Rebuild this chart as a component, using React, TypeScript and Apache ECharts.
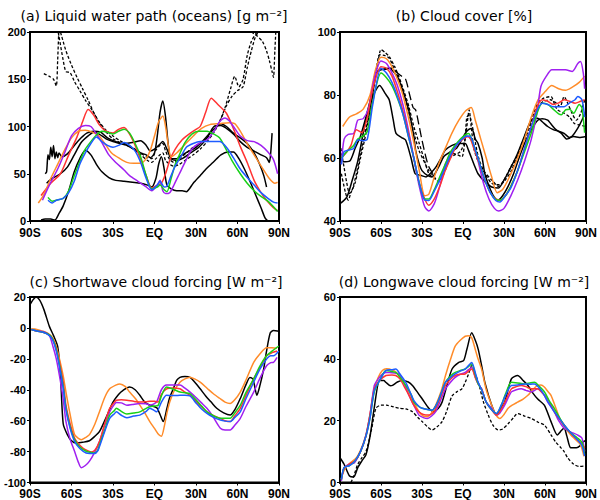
import React, { useEffect, useRef } from "react";
import * as echarts from "echarts";

type P = [number, number][];

// ---------- Panel (a) Liquid water path (oceans) [g m-2] ----------
const aRed: P = [[-82,27],[-75,40],[-68,50],[-62,70],[-56,89],[-52,105],[-48,118],[-44,112],[-40,102],[-35,95],[-30,93],[-26,97],[-22,99],[-18,92],[-14,80],[-10,65],[-6,48],[-2,35],[2,38],[5,40],[8,50],[11,64],[15,76],[20,86],[25,92],[30,97],[33,100],[37,115],[41,130],[46,123],[52,114],[57,98],[62,79],[67,62],[72,43],[77,30],[81,22],[86,14],[89,11]];
const aOrange: P = [[-84,19],[-80,28],[-75,45],[-70,60],[-65,75],[-60,88],[-55,95],[-50,96],[-45,94],[-40,90],[-35,80],[-31,72],[-25,66],[-20,62],[-15,61],[-10,61],[-6,66],[-3,75],[0,90],[3,105],[6,111],[8,100],[10,80],[12,68],[16,72],[22,81],[28,90],[34,98],[40,102],[47,103],[54,104],[58,103],[62,95],[67,82],[72,70],[78,56],[83,45],[87,40],[89,41]];
const aPurple: P = [[-81,22],[-76,38],[-70,55],[-65,72],[-60,90],[-55,98],[-50,101],[-46,100],[-42,92],[-38,83],[-33,70],[-28,62],[-22,54],[-18,48],[-12,42],[-6,36],[-2,32],[2,38],[4,43],[6,32],[8,29],[11,30],[14,38],[18,50],[22,62],[27,76],[32,82],[38,86],[43,95],[47,105],[51,109],[54,106],[58,98],[62,90],[67,85],[72,84],[77,80],[82,73],[86,65],[89,50]];
const aGreen: P = [[-77,25],[-74,21],[-71,22],[-66,24],[-62,32],[-58,48],[-54,63],[-50,76],[-46,84],[-42,91],[-38,95],[-34,94],[-30,92],[-26,95],[-22,97],[-18,93],[-14,82],[-10,68],[-6,48],[-2,34],[2,36],[4,38],[7,33],[9,31],[12,45],[15,60],[18,70],[22,83],[27,92],[32,95],[38,95],[43,92],[47,88],[51,78],[56,64],[62,50],[67,40],[72,32],[77,26],[82,21],[86,15],[89,10]];
const aBlue: P = [[-77,22],[-74,19],[-71,22],[-66,24],[-62,30],[-58,42],[-54,60],[-50,72],[-46,82],[-42,89],[-38,84],[-34,80],[-30,78],[-26,80],[-22,83],[-18,80],[-14,74],[-10,62],[-6,45],[-2,33],[2,38],[4,42],[7,36],[9,37],[12,48],[15,58],[19,68],[23,78],[28,82],[33,84],[40,84],[47,84],[52,78],[57,67],[62,55],[67,46],[72,38],[77,30],[82,24],[86,20],[89,19]];
const aBlack1: P = [[-79,50],[-78,52],[-77,70],[-76,65],[-75,78],[-74,68],[-73,80],[-72,66],[-71,73],[-70,67],[-69,72],[-67,68],[-63,71],[-58,80],[-53,88],[-49,93],[-44,95],[-39,94],[-34,88],[-28,84],[-22,82],[-16,83],[-10,85],[-6,80],[-3,74],[0,76],[3,80],[6,84],[9,76],[12,66],[16,64],[20,66],[26,72],[32,78],[38,88],[43,100],[48,101],[52,98],[57,92],[62,84],[67,78],[72,74],[77,70],[81,67],[83,62],[84,72],[85,93]];
const aBlack2: P = [[-78,40],[-74,45],[-68,50],[-63,57],[-58,70],[-53,83],[-48,90],[-44,94],[-40,92],[-35,87],[-30,84],[-25,82],[-20,80],[-15,76],[-10,72],[-6,70],[-3,67],[0,72],[2,90],[4,115],[6,127],[8,110],[10,80],[12,66],[16,66],[20,70],[25,74],[30,78],[35,85],[40,93],[45,100],[48,103],[52,100],[57,93],[62,88],[67,82],[72,72],[76,60],[79,48],[81,36]];
const aBlack3: P = [[-82,1],[-79,2],[-75,2],[-72,1],[-69,8],[-66,16],[-62,32],[-58,52],[-54,66],[-50,75],[-46,70],[-42,60],[-38,52],[-33,46],[-28,43],[-22,42],[-16,41],[-10,40],[-5,38],[-2,36],[1,45],[3,60],[5,68],[7,55],[9,38],[12,34],[16,32],[20,32],[23,31],[28,40],[33,48],[38,56],[43,63],[48,70],[53,73],[57,73],[61,66],[65,55],[69,42],[73,28],[77,14],[80,3],[82,0]];
const aDash1: P = [[-80,156],[-76,153],[-73,150],[-71,143],[-70,170],[-69,210]];
const aDash2: P = [[-71,210],[-69,195],[-66,170],[-64,158],[-61,157],[-58,148],[-54,138],[-50,128],[-45,117],[-40,105],[-35,96],[-30,90],[-25,85],[-20,81],[-15,77],[-10,72],[-5,67],[-2,66],[1,75],[4,80],[6,82],[8,74],[11,65],[14,62],[18,66],[23,72],[28,78],[33,82],[38,88],[43,95],[47,105],[51,120],[55,140],[58,153],[61,142],[64,150],[67,175],[70,190],[74,200],[77,210]];
const aDash3: P = [[-70,210],[-67,195],[-64,180],[-60,165],[-56,152],[-52,140],[-48,128],[-44,115],[-40,104],[-35,94],[-30,87],[-25,83],[-20,80],[-15,76],[-10,70],[-5,64],[-2,62],[1,66],[4,70],[6,72],[8,64],[11,60],[14,58],[18,60],[23,65],[28,70],[33,76],[38,84],[43,94],[48,108],[52,122],[56,132],[60,138],[64,142],[67,162],[70,180],[73,195],[76,202],[80,212]];
const aDash4: P = [[70,200],[74,196],[78,190],[81,180],[83,170],[85,158],[86,152],[87,180],[88,210]];

// ---------- Panel (b) Cloud cover [%] ----------
const bOrange: P = [[-88,70],[-83,73],[-78,74],[-73,75.5],[-68,80],[-64,88],[-60,92],[-56,91.5],[-52,89],[-48,85],[-44,80],[-40,73],[-36,65],[-32,56],[-28,48],[-25,48.5],[-21,54],[-17,59],[-12,64],[-8,68],[-3,72],[2,75],[6,76],[9,72],[13,66],[17,60],[21,54],[25,49],[29,50],[34,54],[40,60],[45,66],[50,73],[55,78.5],[60,81],[65,83],[70,82],[75,81.5],[80,82.5],[85,84],[89,86]];
const bPurple: P = [[-89,58],[-87,66],[-84,67.5],[-80,67.8],[-77,72],[-73,72.5],[-69,76],[-65,85],[-60,90.8],[-56,90],[-52,87],[-48,83],[-44,77],[-40,69],[-36,60],[-32,51],[-28,44.5],[-25,43.2],[-21,45.5],[-17,51],[-13,58],[-8,62],[-4,64.5],[0,66.5],[3,67],[7,65],[11,59],[15,52],[19,47],[23,44],[26,43.2],[30,44],[35,48],[40,53],[45,59],[50,66],[54,74],[57,82.7],[61,86],[65,88],[70,88],[75,88],[80,87.5],[84,90],[86,90.6],[88,87],[89,82]];
const bRed: P = [[-89,60],[-85,62],[-82,64],[-78,69],[-74,68],[-70,73],[-66,82],[-60,89],[-56,88.5],[-52,86],[-48,81],[-44,75],[-40,68],[-36,60],[-32,52],[-28,47],[-25,45],[-21,47],[-17,51],[-13,56],[-8,61],[-4,64.5],[0,66],[4,66.8],[8,63],[12,58],[16,53],[20,49],[24,47],[27,46.6],[31,48],[35,51],[40,56],[45,63],[50,70],[54,76],[58,78.5],[62,78],[66,77],[70,77.5],[74,78.5],[78,78],[82,77.4],[86,78],[89,78.5]];
const bGreen: P = [[-89,60],[-85,62],[-80,64],[-77,66],[-73,67],[-70,68.5],[-66,78],[-60,87],[-56,85.5],[-52,83],[-48,79],[-44,74],[-40,67],[-36,60],[-32,52],[-28,47],[-25,47],[-21,50],[-17,54],[-13,58],[-9,62],[-4,65],[0,66.8],[4,67.8],[8,64],[12,58.5],[16,53],[20,49],[24,46.8],[27,46.6],[31,48],[35,51],[40,56],[45,62],[50,68],[54,74],[58,77.4],[62,77],[66,75.5],[70,74],[72,73.7],[75,75.3],[78,75.5],[81,74.2],[85,77],[87,76],[89,68]];
const bBlue: P = [[-89,58],[-87,62],[-84,62.5],[-80,63],[-77,65.7],[-73,65.5],[-70,66],[-66,77],[-60,88.5],[-56,87],[-52,84],[-48,79.5],[-44,74],[-40,67],[-36,60],[-32,52],[-28,46.6],[-25,46.5],[-21,49.5],[-17,53],[-13,57],[-9,61],[-4,64.5],[1.6,66.8],[5,67],[8,64],[12,58.5],[16,53],[20,49],[24,46.5],[27,46],[31,48],[35,50.5],[40,56],[45,63],[50,70],[54,75],[58,77.4],[62,77],[66,76.3],[70,76.3],[74,76.3],[78,77.5],[82,78.5],[84,79.5],[87,78.5],[89,73]];
const bBlack1: P = [[-90,45.5],[-85,47.6],[-81,53],[-77,59],[-72,70],[-66,79.5],[-61,83],[-57,80.5],[-54,78.5],[-51,72],[-49,67.8],[-45,66.5],[-42,65.7],[-38,60],[-35,55],[-31,54.5],[-27,54],[-23,55.5],[-20,57],[-16,60],[-13,62.5],[-8,64],[-3,64.6],[1.6,64.6],[4,62.5],[8,58],[11,55],[16,52.5],[21,50.8],[26,50.5],[30,53],[35,57],[40,61.5],[45,67],[50,72],[54.7,72.6],[58,71.5],[62,70],[66,69],[70,68.5],[74,67.8],[78,66.5],[81,66.8],[85,66.5],[90,66.8]];
const bBlack2: P = [[-88,58.8],[-83,59],[-79,63],[-75,67],[-71,73],[-67,80],[-64,87],[-60,88],[-54,88.5],[-50,87],[-47,85],[-43,80],[-39.6,75],[-36,67],[-34.7,62.5],[-32,58],[-30,56],[-26,54.5],[-22.6,54],[-18,57],[-14,60.5],[-9,62],[-5,63],[-2,65],[1.6,67.8],[4,69],[6.4,69.4],[9,66],[11,64.6],[14,60],[16,55],[20,50],[23,47.5],[25.7,46.6],[29,48],[33,51],[37,55],[41,60],[45,64.6],[50,69],[54.7,72],[58,72.5],[62,72],[64,71],[68,69],[72,67.8],[76,66],[80,67],[84,69.5],[87,72],[90,75]];
const bDash1: P = [[-90,64.6],[-87,57],[-85,52],[-83,48.7],[-81,50],[-78,55],[-73,65.7],[-69,73],[-66,80.5],[-63,88],[-60,94.4],[-57,93.5],[-54,92.2],[-50,89],[-47,85.9],[-43,81],[-39.6,76.3],[-36,70],[-32,64.6],[-28,59],[-25,55],[-21,53.5],[-17.7,53],[-14,56],[-10,60],[-6,61],[-2,62],[1,65],[2.8,70],[4.5,75.3],[6,70],[8,63],[11,59],[15,56],[21,53],[26,51],[30,53],[35,57.2],[40,61],[45,65.7],[50,71],[54.7,76.3],[59,78],[64,78.5],[68,77.5],[71,76.3],[74,79.5],[77,77],[80,74],[83,72],[86,74],[88,77],[90,79.5]];
const bDash2: P = [[-89,55],[-86,49],[-84,46.6],[-82,49],[-79,52],[-75,60],[-71,67.8],[-67,78],[-64,86],[-61,92.8],[-57,92.5],[-54,91.7],[-50,88],[-46.8,85],[-43,80],[-39.5,74.2],[-36,68],[-32.3,62.5],[-28,58.5],[-25,56],[-21,54],[-17.8,52.4],[-14,55],[-10.5,59],[-8,61.5],[-4,61],[-0.8,60.4],[1.5,66],[2.8,73],[4.5,73.5],[6.4,71],[9,65],[11.2,60.4],[15,56],[20.9,52],[27,51.5],[31,53],[35.4,56],[40,61],[45.1,66.8],[50,72],[54.7,77.4],[59,79],[64.4,79.5],[67,77],[69.2,75.3],[74,74.2],[78,73],[81.3,71],[85,70.5],[90,70]];
const bLongDash: P = [[-58,88],[-54,88.5],[-51,88.5],[-48,87],[-45,86],[-42,85],[-39,80],[-36.5,76],[-34.7,75.3],[-32,70],[-30,65.7],[-27,60],[-25,57.2],[-22,55]];

// ---------- Panel (c) Shortwave cloud forcing [W m-2] ----------
const cBlack: P = [[-90,15],[-88,18],[-85.6,20],[-83,18],[-80,12],[-76,1],[-73,-5],[-70,-12],[-68,-30],[-66,-62],[-63,-69],[-60,-73],[-56.6,-74.5],[-52,-74],[-47,-73],[-43,-70],[-39.7,-67],[-35,-58],[-30,-48],[-26,-43],[-22.7,-40.4],[-18,-38.3],[-14,-40],[-10.6,-43.6],[-7,-48],[-3.4,-50],[0,-51],[2,-52],[4,-56],[6.3,-60.6],[9,-52],[11,-45],[13.6,-39.4],[16,-34],[18.4,-32],[22,-31.5],[25.7,-32],[29,-35],[33,-39.4],[37,-44],[41,-48],[45,-52],[50,-55],[54.7,-56.4],[58,-53],[62,-45.7],[66,-37],[69,-32],[71,-33],[72,-36],[74,-43.6],[76,-38],[78.9,-26.6],[81,-15],[83.7,-3.2],[86,-1.7],[90,-2.1]];
const cOrange: P = [[-89,-0.6],[-85,-1],[-80.8,-2.1],[-77,-3.5],[-73.5,-6.4],[-71,-12],[-68.7,-20],[-66,-31],[-64,-41.5],[-61,-56],[-57.8,-69],[-55,-71.5],[-53,-72.3],[-50,-71],[-47,-69],[-43,-62],[-39.7,-54],[-36,-45],[-32.4,-39.4],[-28,-37],[-25,-36.2],[-21,-38],[-18,-41.5],[-14,-45.5],[-10.6,-50],[-7,-55],[-3.4,-60.6],[0,-65],[3,-69],[5,-70],[7,-64],[9,-55],[11,-47.9],[14,-41],[18.4,-35.1],[22,-33],[25.7,-31.9],[29,-33],[33,-35.1],[38,-39],[42.6,-42.6],[47,-45.5],[51,-48],[54.7,-48.9],[58,-46.5],[62,-41.5],[66,-34],[71.7,-22.3],[76,-17],[81,-12.8],[85,-12.8],[88.6,-13.2]];
const cPurple: P = [[-89,-1],[-85,-2],[-80,-2.5],[-76,-5],[-73.5,-11.7],[-71,-20],[-68.7,-30.9],[-66,-46],[-64,-60.6],[-61,-72],[-57.8,-79.8],[-55,-87],[-53,-90.4],[-50,-89],[-47,-86.2],[-43,-80],[-39.7,-73.4],[-36,-63],[-32.4,-54.3],[-29,-49.5],[-27.6,-48.3],[-24,-48.5],[-20,-50],[-16,-49.5],[-10.6,-48.9],[-6,-49],[-3.4,-50],[0,-49],[2,-47],[5,-40],[8.7,-37],[13,-37],[18.4,-37],[22,-39],[25.7,-41.5],[30,-45],[34,-48.5],[37.9,-52],[42,-57],[47.6,-64.9],[51,-66],[54.7,-66],[58,-63],[62,-58.5],[66,-51],[71.7,-41.5],[76,-33],[81,-24.5],[84,-22.5],[86,-22.3],[88.6,-19.1]];
const cRed: P = [[-89,-1],[-85,-2],[-80,-3],[-76,-4.5],[-73.5,-7.4],[-71,-13],[-68.7,-22.3],[-66,-35],[-64,-50],[-61,-62],[-57.8,-71.3],[-55,-75],[-51.8,-77.7],[-48,-79.5],[-45.7,-80.2],[-43,-79],[-39.7,-73.4],[-36,-62],[-32.4,-52],[-29,-48],[-27.6,-46.8],[-24,-46.5],[-20,-46.8],[-15,-47.5],[-10.6,-47.9],[-6,-47.8],[-3.4,-47.4],[0,-47.5],[2.7,-47.9],[5,-43],[8.7,-39.4],[13,-38.8],[18.4,-39.4],[22,-41.5],[25.7,-43.6],[30,-47.5],[34,-51],[37.9,-54.3],[42,-56.5],[47.6,-58.5],[51,-60],[54.7,-60.6],[58,-57],[62,-52],[66,-44],[71.7,-33],[76,-26],[81,-18],[85,-16],[88.6,-14.9]];
const cGreen: P = [[-89,-1],[-85,-2],[-80,-3],[-76,-4.5],[-73.5,-7.4],[-71,-14],[-68.7,-24],[-66,-38],[-64,-52],[-61,-64],[-57.8,-72.3],[-54,-77],[-49.4,-79.8],[-46,-80.5],[-43.3,-80.9],[-41,-79],[-39.7,-75.5],[-36,-66],[-32.4,-56.4],[-29,-53.5],[-27.6,-52],[-24,-54],[-20,-55.7],[-15,-55],[-10.6,-54.3],[-6,-52],[-3.4,-51],[0,-50.5],[2.7,-50],[5,-44],[8.7,-38.3],[13,-39.5],[18.4,-41.5],[22,-42],[25.7,-42.6],[30,-46.5],[34,-50.5],[37.9,-54.3],[42,-56.5],[47.6,-58.5],[51,-58.5],[54.7,-58.5],[58,-55],[62,-50],[66,-42],[71.7,-33],[76,-25],[81,-18],[85,-15],[89.8,-11.7]];
const cBlue: P = [[-89,-1],[-85,-2],[-80,-3],[-76,-5],[-73.5,-8],[-71,-15],[-68.7,-25],[-66,-39],[-64,-53],[-61,-65],[-57.8,-73.4],[-54,-78],[-49.4,-80.9],[-46,-81.2],[-43.3,-81.3],[-41,-79.5],[-39.7,-76.5],[-36,-67],[-32.4,-58.5],[-29,-55.5],[-27.6,-54.3],[-24,-56.5],[-20,-58.1],[-15,-57],[-10.6,-56.4],[-6,-54],[-3.4,-52],[0,-53.5],[1.5,-54.3],[5,-48],[8.7,-43.6],[13,-43.8],[18.4,-43.6],[22,-43.5],[25.7,-44],[30,-48.5],[34,-52.5],[37.9,-55.3],[42,-57.5],[47.6,-59.6],[51,-60.3],[54.7,-60.6],[58,-58],[62,-54.3],[66,-46],[71.7,-35.1],[76,-27],[81,-20.2],[84,-18],[86,-18],[89.8,-14.9]];

// ---------- Panel (d) Longwave cloud forcing [W m-2] ----------
const dBlack: P = [[-90,8],[-87,5.9],[-83,2.1],[-80,1.8],[-77,4.8],[-74,7],[-71,9],[-68,15],[-65,24],[-61,33],[-58,33],[-56.4,32.4],[-53,31.3],[-51.6,31.4],[-48,32.5],[-44.3,33],[-40,32.5],[-37,31.4],[-33,29],[-29.8,27],[-25,24],[-21.4,22.9],[-18,24],[-15.3,26],[-12,31],[-8,36.7],[-3.3,38.8],[0.4,39.4],[2.8,43],[6.4,48.4],[9,46],[11.2,43],[14,37],[16,32.4],[21,25],[24.5,21.8],[27,23.5],[30.5,26],[35.4,33.5],[40,34.6],[44,33],[47.5,31.4],[51,29],[54.7,27],[59.5,25],[64.4,19.7],[69,15.4],[72,16.8],[74,17.6],[76,15],[78.9,11.2],[83,11.2],[86,12],[88.5,13.3],[90,13.5]];
const dDash: P = [[-82,0],[-80,2],[-77,5.9],[-74,8],[-71,10],[-67,17],[-63.7,24],[-60,25],[-56,25],[-51,24.5],[-46.7,24],[-42,23.8],[-37,22.9],[-33,21],[-29.8,19.7],[-26,18],[-22.6,17],[-19,18],[-15.3,19.7],[-12,23],[-8,28],[-4,29.5],[-0.8,30.3],[1.6,32.4],[4,35],[6.4,37.8],[9,35],[11.2,32.4],[15,26],[18.5,21.8],[22,18.5],[25.7,17],[29,17.3],[33,19],[37,21],[40,22.3],[45,21.5],[50,20.7],[55,19.5],[59.5,18.6],[64.4,15.4],[68,13],[71.7,11.2],[74,10],[76.6,8],[81,5.9],[85,5.2],[88.5,5.3]];
const dOrange: P = [[-88,2.7],[-86,4.8],[-82,6.5],[-78,8],[-74,11.5],[-71,15.4],[-68,22],[-64.9,30.3],[-62,34],[-59,36.2],[-56,36.8],[-54,36.7],[-50,36],[-46.7,34.6],[-43,32],[-39.5,29.3],[-36,26],[-32.2,22.9],[-29,21.5],[-26,21.3],[-23,22.5],[-20,25],[-16,29.5],[-12.8,34.6],[-9,40],[-5.7,44.1],[-2,46],[1.6,47.3],[4,47.5],[6.4,46.8],[9,43],[11,40],[13.6,36.7],[17,30],[21,25],[24,22],[27,20.7],[30,22],[33,24],[36,25],[40,26],[44,27],[47.5,28.2],[51,30],[54.7,31.4],[57,31.5],[59.5,30.9],[62,29.5],[64.4,28.2],[68,24],[71.7,19.7],[75,17.5],[78.9,15.4],[82,14],[86,12.2],[88.5,8.5]];
const dPurple: P = [[-89,0.5],[-87,4.8],[-83,6],[-79.4,6.4],[-75,10],[-71,15.4],[-68,22],[-64.9,31.4],[-62,33.5],[-59,35.1],[-56,35.6],[-54,35.6],[-50,35.4],[-46.7,35.1],[-43,32],[-39.5,28.2],[-36,25],[-32.2,21.8],[-29,21],[-26,20.7],[-23,21.5],[-20,22.9],[-16,27],[-12.8,30.3],[-9,32.5],[-5.7,34],[-2,35],[1.6,35.6],[4,36.5],[6.4,37.2],[9,34],[11,32],[13.6,30.3],[17,26],[21,24],[24.5,21.8],[27,22.5],[30.5,25],[35.4,29.3],[39,30],[42.6,30.3],[46,29.8],[50,29.3],[54.7,30.3],[57,29.5],[59.5,28.2],[62,26],[66.8,22.9],[70,20],[74,17.6],[79,16.3],[83.7,15.4],[87,14.4],[89,10.1]];
const dRed: P = [[-89,1],[-87,4.5],[-83,6],[-79,7],[-75,10],[-71,15],[-68,22],[-64.9,30.3],[-61,33],[-56.4,34.6],[-52,34.8],[-49.2,34.6],[-46,33.5],[-43,31],[-39.5,28.2],[-36,25],[-32.3,22.9],[-29,22],[-25,21.8],[-21,23],[-17,27],[-12.9,31.3],[-9,33.5],[-5.7,34.6],[-2,35],[1.6,35.1],[4,36],[6.4,36.7],[9,34],[11,32],[13.6,30.3],[17,26],[21,23.5],[24.5,21.8],[27,23],[30.6,26],[35.4,30.3],[39,31],[42.6,31.4],[46,31],[50,30.3],[54.7,30.3],[58,29],[62,27],[64.4,25],[68,22],[71.6,20],[74,18.6],[78,16.3],[83.7,13.8],[87,12.5],[89,11.2]];
const dGreen: P = [[-89,1],[-87,4.8],[-83,5.5],[-79,7],[-75,10],[-71,15],[-68,21],[-64.9,29.3],[-61,33],[-56.4,36.2],[-52,35.9],[-49.2,35.6],[-46,34],[-41.9,31.4],[-38,28.5],[-35.9,26],[-32,24.5],[-29.8,24],[-25,23.5],[-22.6,23.4],[-19,25.5],[-15,30],[-12.9,32.4],[-9,34.5],[-5.7,35.6],[-2,36.2],[1.6,36.7],[4,37.5],[6.4,38.3],[9,35],[11,32],[13.6,30],[17,26],[21,23.5],[24.5,22.3],[28,25],[31,28.5],[35.4,32.4],[40,32.2],[45.1,31.9],[49,32.2],[52.3,32.4],[56,31],[59.6,29.3],[63,26.5],[66.8,24],[70,21.5],[74,18.6],[79,16],[83.7,14.4],[87,13],[89,9]];
const dBlue: P = [[-89,1],[-87,4.8],[-83,5.5],[-79,7],[-75,10],[-71,15],[-68,21],[-64.9,29.8],[-61,33],[-56.4,36.2],[-52,36.5],[-49.2,36.7],[-46,35],[-41.9,32.4],[-38,28.5],[-35.9,26.5],[-32,24.5],[-29.8,24],[-25,23.5],[-22.6,23.4],[-19,25.5],[-15,30],[-12.9,32.4],[-9,34],[-5.7,35.1],[-2,36],[1.6,36.7],[4,37.8],[6.4,38.8],[9,35.5],[11,32.5],[13.6,30],[17,26],[21,23.5],[24.5,22.3],[28,25],[31,28],[35.4,31.4],[40,31.5],[45.1,31.9],[49,31.8],[52.3,31.9],[56,30.5],[59.6,28.2],[63,25.5],[66.8,22.9],[70,21],[74,18.6],[79,16],[83.7,13.8],[87,12],[89,8.5]];

// axis settings
const latTicks = [-90, -60, -30, 0, 30, 60, 90];
const yRanges: [number, number, number][] = [[0, 200, 50], [40, 100, 20], [-100, 20, 20], [0, 60, 20]];
const titles = [
  "(a) Liquid water path (oceans) [g m\u207B\u00B2]",
  "(b) Cloud cover [%]",
  "(c) Shortwave cloud forcing [W m\u207B\u00B2]",
  "(d) Longwave cloud forcing [W m\u207B\u00B2]",
];

const RED = "#ff3333";
const ORANGE = "#ff8c2a";
const PURPLE = "#a020f0";
const GREEN = "#18d018";
const BLUE = "#1e5cff";
const BLACK = "#000000";

const grids = [
  { left: 30, top: 32, width: 249, height: 189 },
  { left: 340, top: 32, width: 249, height: 189 },
  { left: 30, top: 297, width: 249, height: 188 },
  { left: 340, top: 297, width: 249, height: 188 },
];

function latLabel(v: number) {
  if (v === 0) return "EQ";
  return v < 0 ? `${-v}S` : `${v}N`;
}

function line(data: P, color: string, gi: number, dash?: number[], width = 1.5) {
  return {
    type: "line",
    data,
    xAxisIndex: gi,
    yAxisIndex: gi,
    showSymbol: false,
    symbol: "none",
    smooth: 0.25,
    clip: true,
    lineStyle: { color, width, type: dash ? dash : "solid" },
    z: color === BLACK ? 2 : 3,
  };
}

export default function App() {
  const ref = useRef<HTMLDivElement>(null);
  useEffect(() => {
    document.body.style.margin = "0";
    const chart = echarts.init(ref.current!, undefined, { renderer: "svg" });
    const SD = [3, 2];
    const LD = [9, 4];
    const series = [
      line(aDash1, BLACK, 0, SD, 1.3), line(aDash2, BLACK, 0, SD, 1.3), line(aDash3, BLACK, 0, SD, 1.3), line(aDash4, BLACK, 0, SD, 1.3),
      line(aBlack1, BLACK, 0), line(aBlack2, BLACK, 0), line(aBlack3, BLACK, 0),
      line(aRed, RED, 0), line(aOrange, ORANGE, 0), line(aPurple, PURPLE, 0), line(aGreen, GREEN, 0), line(aBlue, BLUE, 0),

      line(bDash1, BLACK, 1, SD, 1.3), line(bDash2, BLACK, 1, SD, 1.3), line(bLongDash, BLACK, 1, LD, 1.3),
      line(bBlack1, BLACK, 1), line(bBlack2, BLACK, 1),
      line(bOrange, ORANGE, 1), line(bPurple, PURPLE, 1), line(bRed, RED, 1), line(bGreen, GREEN, 1), line(bBlue, BLUE, 1),

      line(cBlack, BLACK, 2),
      line(cOrange, ORANGE, 2), line(cPurple, PURPLE, 2), line(cRed, RED, 2), line(cGreen, GREEN, 2), line(cBlue, BLUE, 2),

      line(dDash, BLACK, 3, SD, 1.3), line(dBlack, BLACK, 3),
      line(dOrange, ORANGE, 3), line(dPurple, PURPLE, 3), line(dRed, RED, 3), line(dGreen, GREEN, 3), line(dBlue, BLUE, 3),
    ];

    const labelFont = { color: "#000", fontWeight: "bold" as const, fontFamily: "Liberation Sans, Arial, sans-serif" };

    const option: any = {
      animation: false,
      backgroundColor: "#ffffff",
      grid: grids.map((g) => ({ ...g, show: true, borderColor: "#000", borderWidth: 2, backgroundColor: "transparent" })),
      xAxis: grids.map((_, i) => ({
        type: "value",
        gridIndex: i,
        min: latTicks[0],
        max: latTicks[latTicks.length - 1],
        interval: 30,
        axisLine: { show: true, onZero: false, lineStyle: { color: "#000", width: 2 } },
        axisTick: { show: true, length: 3, lineStyle: { color: "#000", width: 1 } },
        splitLine: { show: false },
        axisLabel: { ...labelFont, fontSize: 12, margin: 6, lineHeight: 11, formatter: (v: number) => latLabel(v) },
      })),
      yAxis: yRanges.map(([mn, mx, iv], i) => ({
        type: "value",
        gridIndex: i,
        min: mn,
        max: mx,
        interval: iv,
        axisLine: { show: true, onZero: false, lineStyle: { color: "#000", width: 2 } },
        axisTick: { show: true, length: 3, lineStyle: { color: "#000", width: 1 } },
        splitLine: { show: false },
        axisLabel: { ...labelFont, fontSize: 11, margin: 4, lineHeight: 9 },
      })),
      graphic: [
        { x: 154, y: 16 },
        { x: 464, y: 16 },
        { x: 156, y: 282 },
        { x: 464, y: 282 },
      ].map((p, i) => ({
        type: "text",
        x: p.x,
        y: p.y,
        style: {
          text: titles[i],
          textAlign: "center",
          textVerticalAlign: "middle",
          fill: "#000",
          font: "14px 'DejaVu Sans', sans-serif",
        },
      })),
      series,
    };
    chart.setOption(option);
    return () => chart.dispose();
  }, []);
  return <div ref={ref} style={{ width: 600, height: 500 }} />;
}
